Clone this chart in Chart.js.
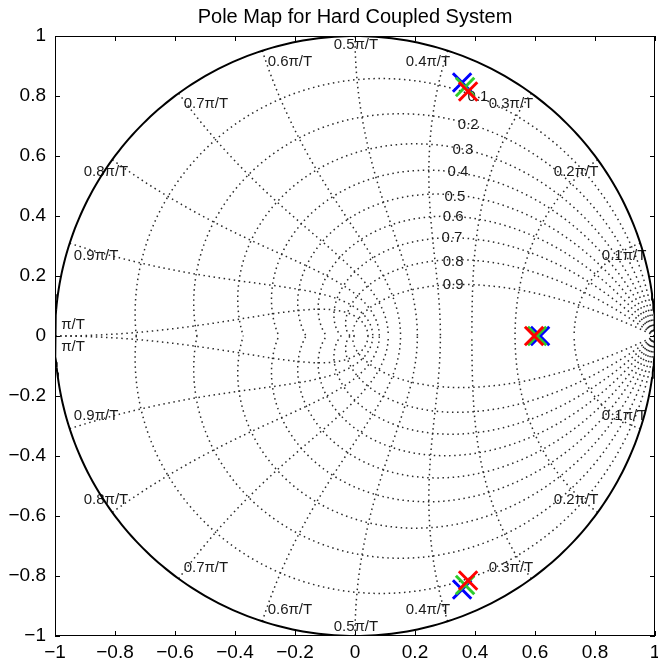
<!DOCTYPE html>
<html><head><meta charset="utf-8">
<script src="https://cdn.jsdelivr.net/npm/chart.js@4/dist/chart.umd.min.js"></script>
<style>html,body{margin:0;padding:0;background:#fff}canvas{display:block}</style>
</head><body>
<canvas id="c" width="658" height="668"></canvas>
<script>
// ---------- data ----------
const chartTitle = 'Pole Map for Hard Coupled System';
const axisTickValues = [-1, -0.8, -0.6, -0.4, -0.2, 0, 0.2, 0.4, 0.6, 0.8, 1];

const redReal   = [0.377, 0.597, 0.377];
const redImag   = [0.815, 0, -0.815];
const greenReal = [0.367, 0.607, 0.367];
const greenImag = [0.830, 0, -0.830];
const blueReal  = [0.357, 0.617, 0.357];
const blueImag  = [0.845, 0, -0.845];

// zgrid constants
const zetaValues = [0.1, 0.2, 0.3, 0.4, 0.5, 0.6, 0.7, 0.8, 0.9];
const wnFactors  = [0.1, 0.2, 0.3, 0.4, 0.5, 0.6, 0.7, 0.8, 0.9, 1.0];
const wnLabels   = ['0.1\u03c0/T','0.2\u03c0/T','0.3\u03c0/T','0.4\u03c0/T','0.5\u03c0/T','0.6\u03c0/T','0.7\u03c0/T','0.8\u03c0/T','0.9\u03c0/T','\u03c0/T'];
const zetaLabels = ['0.1','0.2','0.3','0.4','0.5','0.6','0.7','0.8','0.9'];

// annotation anchor points (upper half; lower half mirrored)
const wnLabelX = [0.897, 0.737, 0.52, 0.243, 0.003, -0.217, -0.497, -0.83, -0.863, -0.94];
const wnLabelY = [0.267, 0.547, 0.773, 0.913, 0.97, 0.913, 0.773, 0.547, 0.267, 0.037];
const zetaLabelX = [0.41, 0.377, 0.36, 0.343, 0.333, 0.327, 0.323, 0.327, 0.327];
const zetaLabelY = [0.797, 0.703, 0.62, 0.547, 0.463, 0.397, 0.327, 0.247, 0.17];

// ---------- grid geometry (z-plane zgrid) ----------
const N = 160;
function dampCurve(zeta, s) {
  const m = zeta / Math.sqrt(1 - zeta * zeta), pts = [];
  for (let i = 0; i <= N; i++) {
    const t = Math.PI * i / N, r = Math.exp(-m * t);
    pts.push({x: r * Math.cos(t), y: s * r * Math.sin(t)});
  }
  return pts;
}
function wnCurve(f, s) {
  const wn = f * Math.PI, pts = [];
  for (let i = 0; i <= N; i++) {
    const p = Math.PI / 2 + (Math.PI / 2) * i / N;
    const r = Math.exp(wn * Math.cos(p)), a = wn * Math.sin(p);
    pts.push({x: r * Math.cos(a), y: s * r * Math.sin(a)});
  }
  return pts;
}
function unitCircle() {
  const pts = [];
  for (let i = 0; i <= 360; i++) {
    const t = 2 * Math.PI * i / 360;
    pts.push({x: Math.cos(t), y: Math.sin(t)});
  }
  return pts;
}
const gridStyle = {showLine: true, pointRadius: 0, borderColor: '#2a2a2a', borderWidth: 1.5, borderDash: [1.5, 3.6], fill: false, order: 10};
const datasets = [];
function poleSet(label, re, im, color, order) {
  return {label, data: re.map((x, i) => ({x, y: im[i]})), showLine: false,
    pointStyle: 'crossRot', pointRadius: 13, pointHoverRadius: 13,
    pointBorderWidth: 3, borderColor: color, backgroundColor: color, order};
}
datasets.push(poleSet('red', redReal, redImag, '#ff0000', 0));
datasets.push(poleSet('green', greenReal, greenImag, '#2ccc2c', 1));
datasets.push(poleSet('blue', blueReal, blueImag, '#0000ff', 2));
datasets.push({label: 'unit', data: unitCircle(), showLine: true, pointRadius: 0, borderColor: '#000', borderWidth: 2, order: 5});
zetaValues.forEach(z => { datasets.push(Object.assign({label: 'z' + z, data: dampCurve(z, 1)}, gridStyle));
                           datasets.push(Object.assign({label: 'z-' + z, data: dampCurve(z, -1)}, gridStyle)); });
wnFactors.forEach(f => { datasets.push(Object.assign({label: 'w' + f, data: wnCurve(f, 1)}, gridStyle));
                          datasets.push(Object.assign({label: 'w-' + f, data: wnCurve(f, -1)}, gridStyle)); });

const FONT = "'Liberation Sans', Arial, sans-serif";
function fmt(v) {
  const r = Math.round(v * 10) / 10;
  if (r === 0) return '0';
  let s = (Math.abs(r) === 1) ? '1' : Math.abs(r).toFixed(1);
  return (r < 0 ? '\u2212' : '') + s;
}

const deco = {
  id: 'deco',
  beforeDatasetsDraw(chart) {
    const ctx = chart.ctx, xs = chart.scales.x, ys = chart.scales.y;
    ctx.save();
    ctx.fillStyle = '#1a1a1a';
    ctx.font = '15px ' + FONT;
    ctx.textAlign = 'center';
    ctx.textBaseline = 'middle';
    wnLabels.forEach((t, i) => {
      ctx.fillText(t, xs.getPixelForValue(wnLabelX[i]), ys.getPixelForValue(wnLabelY[i]));
      ctx.fillText(t, xs.getPixelForValue(wnLabelX[i]), ys.getPixelForValue(-wnLabelY[i]));
    });
    zetaLabels.forEach((t, i) => {
      ctx.fillText(t, xs.getPixelForValue(zetaLabelX[i]), ys.getPixelForValue(zetaLabelY[i]));
    });
    ctx.restore();
  },
  afterDraw(chart) {
    const ctx = chart.ctx, a = chart.chartArea, xs = chart.scales.x, ys = chart.scales.y;
    ctx.save();
    ctx.strokeStyle = '#000';
    ctx.lineWidth = 1;
    ctx.strokeRect(a.left + 0.5, a.top + 0.5, a.right - a.left - 1, a.bottom - a.top - 1);
    const L = 5;
    ctx.beginPath();
    axisTickValues.forEach(v => {
      const px = Math.round(xs.getPixelForValue(v)) + 0.5;
      ctx.moveTo(px, a.bottom); ctx.lineTo(px, a.bottom - L);
      ctx.moveTo(px, a.top); ctx.lineTo(px, a.top + L);
      const py = Math.round(ys.getPixelForValue(v)) + 0.5;
      ctx.moveTo(a.left, py); ctx.lineTo(a.left + L, py);
      ctx.moveTo(a.right, py); ctx.lineTo(a.right - L, py);
    });
    ctx.stroke();
    ctx.fillStyle = '#000';
    ctx.font = '20px ' + FONT;
    ctx.textAlign = 'center';
    ctx.textBaseline = 'alphabetic';
    ctx.fillText(chartTitle, (a.left + a.right) / 2, 23);
    ctx.restore();
  }
};

new Chart(document.getElementById('c'), {
  type: 'scatter',
  data: {datasets},
  options: {
    responsive: false, animation: false, devicePixelRatio: 1,
    layout: {autoPadding: false, padding: {left: 0, right: 3, top: 36, bottom: 0}},
    plugins: {legend: {display: false}, tooltip: {enabled: false}, title: {display: false}},
    scales: {
      x: {type: 'linear', min: -1, max: 1, position: 'bottom',
          afterBuildTicks: s => { s.ticks = axisTickValues.map(v => ({value: v})); },
          afterFit: s => { s.height = 32; s.paddingLeft = 0; s.paddingRight = 0; },
          grid: {display: false, drawTicks: false}, border: {display: false},
          ticks: {callback: v => fmt(v), color: '#000', font: {size: 19, family: FONT}, padding: 5, maxRotation: 0, autoSkip: false}},
      y: {type: 'linear', min: -1, max: 1,
          afterBuildTicks: s => { s.ticks = axisTickValues.map(v => ({value: v})); },
          afterFit: s => { s.width = 55; s.paddingTop = 0; s.paddingBottom = 0; },
          grid: {display: false, drawTicks: false}, border: {display: false},
          ticks: {callback: v => fmt(v), color: '#000', font: {size: 19, family: FONT}, padding: 9, autoSkip: false}}
    }
  },
  plugins: [deco]
});
</script>
</body></html>
